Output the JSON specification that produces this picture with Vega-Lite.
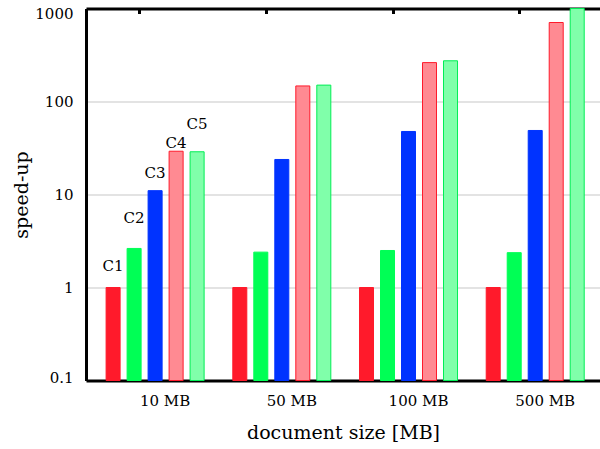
{
  "$schema": "https://vega.github.io/schema/vega-lite/v6.json",
  "width": 514,
  "height": 372,
  "autosize": {"type": "none"},
  "padding": {"left": 86, "top": 8.5, "right": 0, "bottom": 68.5},
  "config": {
    "font": "DejaVu Serif",
    "view": {"stroke": null},
    "axis": {"labelColor": "black", "titleColor": "black", "titleFontWeight": "normal", "domain": true, "labelFont": "DejaVu Serif", "titleFont": "DejaVu Serif"},
    "text": {"font": "DejaVu Serif"}
  },
  "datasets": {
    "bars": [
      {"size": "10 MB", "config": "C1", "speedup": 1},
      {"size": "10 MB", "config": "C2", "speedup": 2.63},
      {"size": "10 MB", "config": "C3", "speedup": 11.0},
      {"size": "10 MB", "config": "C4", "speedup": 29.2},
      {"size": "10 MB", "config": "C5", "speedup": 28.8},
      {"size": "50 MB", "config": "C1", "speedup": 1},
      {"size": "50 MB", "config": "C2", "speedup": 2.4},
      {"size": "50 MB", "config": "C3", "speedup": 23.8},
      {"size": "50 MB", "config": "C4", "speedup": 147},
      {"size": "50 MB", "config": "C5", "speedup": 150},
      {"size": "100 MB", "config": "C1", "speedup": 1},
      {"size": "100 MB", "config": "C2", "speedup": 2.5},
      {"size": "100 MB", "config": "C3", "speedup": 47.6},
      {"size": "100 MB", "config": "C4", "speedup": 262},
      {"size": "100 MB", "config": "C5", "speedup": 274},
      {"size": "500 MB", "config": "C1", "speedup": 1},
      {"size": "500 MB", "config": "C2", "speedup": 2.37},
      {"size": "500 MB", "config": "C3", "speedup": 48.8},
      {"size": "500 MB", "config": "C4", "speedup": 707},
      {"size": "500 MB", "config": "C5", "speedup": 1000}
    ],
    "labels": [
      {"size": "10 MB", "config": "C1", "at": 1.69},
      {"size": "10 MB", "config": "C2", "at": 5.52},
      {"size": "10 MB", "config": "C3", "at": 17.2},
      {"size": "10 MB", "config": "C4", "at": 36.2},
      {"size": "10 MB", "config": "C5", "at": 56.6}
    ]
  },
  "layer": [
    {
      "data": {"name": "bars"},
      "mark": {"type": "bar", "strokeWidth": 1},
      "encoding": {
        "x": {
          "field": "size",
          "type": "nominal",
          "sort": ["10 MB", "50 MB", "100 MB", "500 MB"],
          "scale": {"paddingInner": 0, "paddingOuter": 0.0284, "align": 0.8},
          "axis": {
            "orient": "bottom",
            "title": "document size [MB]",
            "titleFontSize": 19,
            "labelFontSize": 15,
            "labelAngle": 0,
            "labelOffset": 10,
            "labelPadding": 13,
            "titlePadding": 15,
            "ticks": false,
            "domain": true,
            "domainColor": "black",
            "domainWidth": 3
          }
        },
        "xOffset": {
          "field": "config",
          "type": "nominal",
          "sort": ["C1", "C2", "C3", "C4", "C5"],
          "scale": {"paddingInner": 0.333, "paddingOuter": 0.683}
        },
        "y": {
          "field": "speedup",
          "type": "quantitative",
          "scale": {"type": "log", "domain": [0.1, 1000], "nice": false},
          "axis": {
            "title": "speed-up",
            "titleFontSize": 19,
            "titlePadding": 3,
            "labelFontSize": 15,
            "labelPadding": 13,
            "labelOffset": {"condition": [{"test": "datum.value >= 1000", "value": 5}, {"test": "datum.value <= 0.1", "value": -3}], "value": 0},
            "values": [0.1, 1, 10, 100, 1000],
            "format": "~g",
            "ticks": false,
            "domain": true,
            "domainColor": "black",
            "domainWidth": 3,
            "grid": true,
            "gridColor": "#e3e3e3",
            "gridWidth": 2
          }
        },
        "y2": {"datum": 0.1},
        "fill": {
          "field": "config",
          "type": "nominal",
          "scale": {"domain": ["C1", "C2", "C3", "C4", "C5"], "range": ["#ff1a2b", "#00ff55", "#0033ff", "#ff8a92", "#80ffaa"]},
          "legend": null
        },
        "stroke": {
          "field": "config",
          "type": "nominal",
          "scale": {"domain": ["C1", "C2", "C3", "C4", "C5"], "range": ["#ff1a2b", "#00ff55", "#0033ff", "#ff1a2b", "#00ee55"]},
          "legend": null
        }
      }
    },
    {
      "data": {"name": "labels"},
      "mark": {"type": "text", "fontSize": 15, "baseline": "middle", "align": "center", "color": "black"},
      "encoding": {
        "x": {
          "field": "size",
          "type": "nominal",
          "sort": ["10 MB", "50 MB", "100 MB", "500 MB"],
          "axis": {
            "orient": "top",
            "labels": false,
            "title": null,
            "domain": true,
            "domainColor": "black",
            "domainWidth": 3,
            "ticks": true,
            "tickSize": -5,
            "tickWidth": 3,
            "tickColor": "black",
            "tickOffset": -16,
            "grid": false
          }
        },
        "xOffset": {"field": "config", "type": "nominal", "sort": ["C1", "C2", "C3", "C4", "C5"]},
        "y": {"field": "at", "type": "quantitative"},
        "text": {"field": "config"}
      }
    }
  ],
  "resolve": {"axis": {"x": "independent"}}
}
